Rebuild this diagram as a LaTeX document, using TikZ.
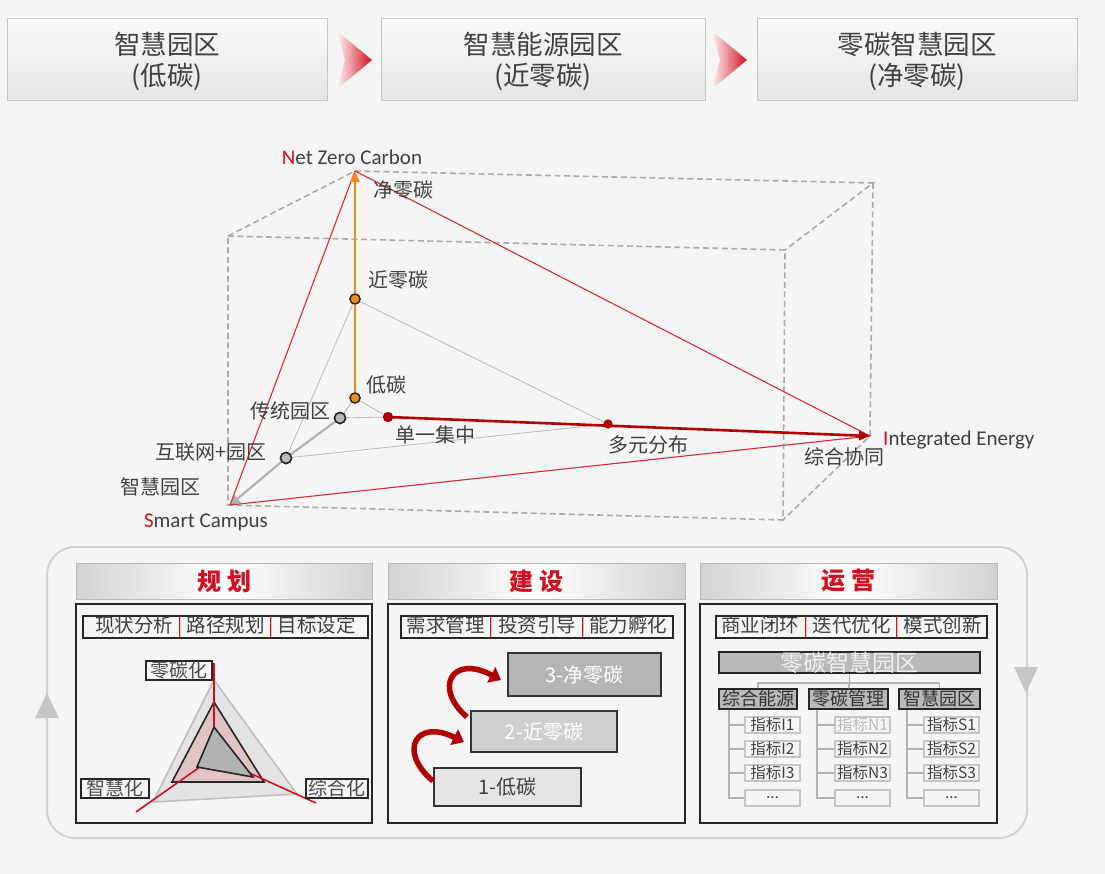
\documentclass[tikz,border=0pt]{standalone}
\usepackage{fontspec}
\setmainfont{Noto Sans CJK SC}
\newfontfamily\en{Carlito}
\usetikzlibrary{arrows.meta,shapes.geometric,calc}
\definecolor{bgc}{HTML}{F5F5F5}
\definecolor{txt}{HTML}{404040}
\definecolor{myred}{HTML}{D01020}
\definecolor{darkred}{HTML}{B00000}
\definecolor{linered}{HTML}{D42A35}
\definecolor{orangec}{HTML}{F08A24}
\definecolor{chev}{HTML}{D0101E}
\newcommand\mysep{\hspace{4pt}{\color{myred}|}\hspace{4pt}}
\begin{document}
\begin{tikzpicture}[x=1pt,y=-1pt,
 hdr/.style={draw=gray!45, line width=0.8pt, top color=gray!4, bottom color=gray!20, minimum width=320pt, minimum height=82pt, inner sep=0pt, align=center, text=txt, font=\fontsize{26.5}{31}\selectfont},
 lbl/.style={text=txt, font=\fontsize{20}{22}\selectfont, inner sep=0pt},
 enl/.style={text=txt, font=\en\fontsize{21}{22}\selectfont, inner sep=0pt},
 dashbox/.style={draw=gray!65, line width=1.6pt, dash pattern=on 6pt off 3.5pt},
 odot/.style={circle, draw=black!85, line width=1.3pt, fill=orangec, minimum size=10pt, inner sep=0pt},
 gdot/.style={circle, draw=black!85, line width=1.5pt, fill=gray!55, minimum size=11pt, inner sep=0pt},
 rdot/.style={circle, fill=darkred, minimum size=10pt, inner sep=0pt},
 thingray/.style={draw=gray!55, line width=0.8pt},
 thickgray/.style={draw=gray!60, line width=2.2pt},
 thinred/.style={draw=linered, line width=1.1pt},
 pnlhead/.style={draw=gray!55, line width=1pt, left color=gray!35, right color=gray!35, middle color=white, minimum width=296pt, minimum height=36pt, inner sep=0pt, text=myred, font=\bfseries\fontsize{24}{26}\selectfont},
 pnlbody/.style={draw=black!85, line width=1.8pt, minimum width=296pt, minimum height=219pt, inner sep=0pt},
 subbox/.style={draw=black!85, line width=1.5pt, minimum height=20pt, inner sep=0pt, text=black!75, font=\fontsize{19.5}{20}\selectfont},
 rlab/.style={draw=black!85, line width=1.5pt, minimum height=19pt, inner sep=0pt, text=black!70, font=\fontsize{19}{20}\selectfont},
 stepbox/.style={draw=black!80, line width=1.5pt, inner sep=0pt, font=\fontsize{20}{22}\selectfont},
 catbox/.style={draw=black!85, line width=1.5pt, fill=gray!55, minimum height=20pt, inner sep=0pt, text=black!80, font=\fontsize{18}{20}\selectfont},
 item/.style={draw=gray!45, line width=1.3pt, fill=gray!8, minimum width=55pt, minimum height=16pt, inner sep=0pt, text=black!75, font=\fontsize{15.5}{16}\selectfont},
 tree/.style={draw=gray!60, line width=1.6pt},
 carrow/.style={draw=darkred, line width=5.5pt, -{Triangle[length=11pt,width=17pt]}},
]
\useasboundingbox (0,0) rectangle (1105,874);
\fill[bgc] (0,0) rectangle (1105,874);

% ---------- top headers ----------
\shade[top color=gray!4, bottom color=gray!20, draw=gray!45, line width=0.8pt] (7,18) rectangle (327,100);
\shade[top color=gray!4, bottom color=gray!20, draw=gray!45, line width=0.8pt] (381,18) rectangle (705,100);
\shade[top color=gray!4, bottom color=gray!20, draw=gray!45, line width=0.8pt] (757,18) rectangle (1077,100);
\node[align=center, text=txt, font=\fontsize{26.5}{31}\selectfont, inner sep=0pt] (h1) at (167,61) {智慧园区\\(低碳)};
\node[align=center, text=txt, font=\fontsize{26.5}{31}\selectfont, inner sep=0pt] (h2) at (543,61) {智慧能源园区\\(近零碳)};
\node[align=center, text=txt, font=\fontsize{26.5}{31}\selectfont, inner sep=0pt] (h3) at (917,61) {零碳智慧园区\\(净零碳)};
\shade[left color=red!5, right color=chev] (337,31) -- (372,60) -- (337,89) -- (345,60) -- cycle;
\shade[left color=red!5, right color=chev] (712,31) -- (747,60) -- (712,89) -- (720,60) -- cycle;

% ---------- 3D box ----------
\coordinate (NZ) at (355,171);
\coordinate (SC) at (230,505);
\coordinate (IE) at (870,436);
\coordinate (FTL) at (228,236);
\coordinate (FTR) at (785,250);
\coordinate (FBR) at (783,520);
\coordinate (FBL) at (228,505);
\coordinate (BTR) at (873,183);
\draw[dashbox] (FTL) -- (FTR) -- (FBR) -- (FBL) -- cycle;
\draw[dashbox] (FTL) -- (NZ) -- (BTR) -- (FTR);
\draw[dashbox] (BTR) -- (IE) -- (FBR);

\node[odot] (d1) at (355,398) {};
\node[odot] (d2) at (355,299) {};
\node[gdot] (g1) at (340,418) {};
\node[gdot] (g2) at (286,458) {};
\node[rdot] (r1) at (388,417) {};
\node[rdot, minimum size=9pt] (r2) at (608,424) {};

\draw[thingray] (d2) -- (g2);
\draw[thingray] (d2) -- (r2);
\draw[thingray] (g2) -- (r2);
\draw[thingray, line width=1pt] (d1) -- (g1);
\draw[thingray] (d1) -- (r1);
\draw[thingray] (g1) -- (r1);
\draw[thickgray] (g1) -- (g2);
\draw[thickgray, -{Triangle[length=10pt,width=10pt]}] (g2) -- (SC);
\draw[thinred] (NZ) -- (SC);
\draw[thinred] (NZ) -- (IE);
\draw[thinred] (SC) -- (IE);
\draw[draw=darkred, line width=2.6pt, -{Triangle[length=11pt,width=9pt]}] (r1) -- (IE);
\draw[draw=orangec, line width=2.6pt, -{Triangle[length=11pt,width=9pt]}] (d1) -- (NZ);
% redraw dots on top
\node[odot] at (d1) {};
\node[odot] at (d2) {};
\node[gdot] at (g1) {};
\node[gdot] at (g2) {};
\node[rdot] at (r1) {};
\node[rdot, minimum size=9pt] at (r2) {};

\node[enl] (tNZ) at (352,157) {\textcolor{myred}{N}et Zero Carbon};
\node[lbl] (t1) at (403,190) {净零碳};
\node[lbl] (t2) at (398,280) {近零碳};
\node[lbl] (t3) at (386,385) {低碳};
\node[lbl] (t4) at (290,411) {传统园区};
\node[lbl] (t5) at (211,452) {互联网+园区};
\node[lbl] (t6) at (160,487) {智慧园区};
\node[enl] (tSC) at (206,522) {\textcolor{myred}{S}mart Campus};
\node[lbl] (t7) at (435,435) {单一集中};
\node[lbl] (t8) at (648,445) {多元分布};
\node[lbl] (t9) at (844,457) {综合协同};
\node[enl, anchor=west] (tIE) at (883,440) {\textcolor{myred}{I}ntegrated Energy};

% ---------- bottom loop ----------
\draw[draw=gray!35, line width=2pt, rounded corners=28pt] (47,547) rectangle (1027,838);
\fill[gray!45] (35,718) -- (59,718) -- (47,693) -- cycle;
\fill[gray!45] (1014,667) -- (1038,667) -- (1026,693) -- cycle;

% ---------- panel 1 ----------
\node[pnlhead] (ph1) at (224,581) {规\hspace{6pt}划};
\node[pnlbody] (pb1) at (224,713.5) {};
\node[subbox, minimum width=285pt] (ps1) at (225.5,627) {现状分析\mysep 路径规划\mysep 目标设定};
% radar
\coordinate (rc) at (214,757);
\filldraw[fill=gray!22, draw=gray!50, line width=1.6pt] (214,680) -- (153,802) -- (297,794) -- cycle;
\filldraw[fill=red!35!gray!35, draw=black!85, line width=1.6pt] (214,702) -- (172,782) -- (264,782) -- cycle;
\coordinate (ax1) at (214,663);
\coordinate (ax2) at (136,812);
\coordinate (ax3) at (316,803);
\draw[draw=myred, line width=1.6pt] (rc) -- (ax1);
\draw[draw=myred, line width=1.6pt] (rc) -- (ax2);
\draw[draw=myred, line width=1.6pt] (rc) -- (ax3);
\filldraw[fill=gray!60, draw=black!85, line width=1.6pt] (214,727) -- (197,767) -- (253,777) -- cycle;
\node[rlab, minimum width=66pt] (rl1) at (179,670.5) {零碳化};
\node[rlab, minimum width=68pt] (rl2) at (115,788.5) {智慧化};
\node[rlab, minimum width=62pt] (rl3) at (337,788.5) {综合化};

% ---------- panel 2 ----------
\node[pnlhead, minimum width=297pt] (ph2) at (536.5,581) {建\hspace{6pt}设};
\node[pnlbody, minimum width=297pt] (pb2) at (536.5,713.5) {};
\node[subbox, minimum width=272pt] (ps2) at (537,627) {需求管理\mysep 投资引导\mysep 能力孵化};
\node[stepbox, fill=gray!58, text=white, minimum width=153pt, minimum height=43pt] (s3) at (584.5,674.5) {3-净零碳};
\node[stepbox, fill=gray!38, text=white, minimum width=146pt, minimum height=41pt] (s2) at (544,731.5) {2-近零碳};
\node[stepbox, fill=gray!20, text=black!75, minimum width=147pt, minimum height=38pt] (s1) at (507.5,787) {1-低碳};
\coordinate (a1s) at (433,781);
\coordinate (a1e) at (464,742);
\coordinate (a2s) at (467,717);
\coordinate (a2e) at (501,680);
\draw[carrow] (a1s) .. controls (398,752) and (415,718) .. (a1e);
\draw[carrow] (a2s) .. controls (433,688) and (452,654) .. (a2e);

% ---------- panel 3 ----------
\node[pnlhead, minimum width=297pt] (ph3) at (848.5,581) {运\hspace{6pt}营};
\node[pnlbody, minimum width=297pt] (pb3) at (848.5,713.5) {};
\node[subbox, minimum width=271pt] (ps3) at (851.5,627) {商业闭环\mysep 迭代优化\mysep 模式创新};
\node[draw=black!85, line width=1.5pt, fill=gray!55, minimum width=261pt, minimum height=21pt, inner sep=0pt, text=gray!12, font=\fontsize{23}{23}\selectfont] (bar) at (849.5,662.5) {零碳智慧园区};
\node[catbox, minimum width=78pt] (b1) at (758,699) {综合能源};
\node[catbox, minimum width=79pt] (b2) at (848.5,699) {零碳管理};
\node[catbox, minimum width=81pt] (b3) at (939.5,699) {智慧园区};
\coordinate (jn) at (849.5,683);
\draw[tree] (bar.south) -- (jn);
\draw[tree] (b1.north) |- (jn) -| (b3.north);
\draw[tree] (jn) -- (b2.north);

\node[item] (i11) at (772.5,725) {指标I1};
\node[item] (i12) at (772.5,749) {指标I2};
\node[item] (i13) at (772.5,773) {指标I3};
\node[item] (i14) at (772.5,798) {...};
\node[item, text=gray!55] (i21) at (862.5,725) {指标N1};
\node[item] (i22) at (862.5,749) {指标N2};
\node[item] (i23) at (862.5,773) {指标N3};
\node[item] (i24) at (862.5,798) {...};
\node[item] (i31) at (951.5,725) {指标S1};
\node[item] (i32) at (951.5,749) {指标S2};
\node[item] (i33) at (951.5,773) {指标S3};
\node[item] (i34) at (951.5,798) {...};

\draw[tree] ([xshift=11pt]b1.south west) |- (i14.west);
\draw[tree] (i11.west) -- ++(-15,0);
\draw[tree] (i12.west) -- ++(-15,0);
\draw[tree] (i13.west) -- ++(-15,0);
\draw[tree] ([xshift=9pt]b2.south west) |- (i24.west);
\draw[tree] (i21.west) -- ++(-17,0);
\draw[tree] (i22.west) -- ++(-17,0);
\draw[tree] (i23.west) -- ++(-17,0);
\draw[tree] ([xshift=9pt]b3.south west) |- (i34.west);
\draw[tree] (i31.west) -- ++(-16,0);
\draw[tree] (i32.west) -- ++(-16,0);
\draw[tree] (i33.west) -- ++(-16,0);
\end{tikzpicture}
\end{document}
